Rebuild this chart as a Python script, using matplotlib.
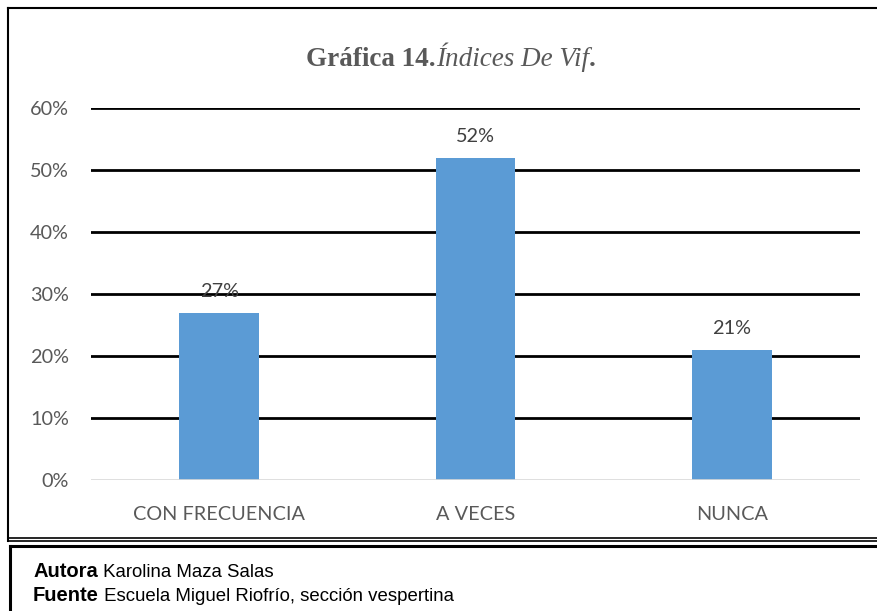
import matplotlib.pyplot as plt
from matplotlib.lines import Line2D

categories = ['CON FRECUENCIA', 'A VECES', 'NUNCA']
values = [0.27, 0.52, 0.21]
labels = ['27%', '52%', '21%']
yticks = [0, 0.1, 0.2, 0.3, 0.4, 0.5, 0.6]
ytick_labels = ['0%', '10%', '20%', '30%', '40%', '50%', '60%']

W, H = 877, 611
fig = plt.figure(figsize=(W / 100, H / 100), dpi=100)


def fx(x):
    return x / W


def fy(y):
    return 1 - y / H


# axes placed in pixel coordinates of the reference
ax = fig.add_axes([fx(91), fy(480), fx(860) - fx(91), fy(108) - fy(480)])
ax.bar(range(len(categories)), values, width=0.31, color='#5B9BD5', zorder=3)
ax.set_xlim(-0.5, 2.5)
ax.set_ylim(0, 0.6)
ax.set_yticks(yticks)
ax.set_yticklabels(ytick_labels)
ax.set_xticks(range(len(categories)))
ax.set_xticklabels(categories)
for y in yticks[1:]:
    ax.axhline(y, color='black', lw=2, zorder=1)
ax.axhline(0, color='#D9D9D9', lw=1.2, zorder=4)
for s in ax.spines.values():
    s.set_visible(False)
ax.tick_params(length=0, labelsize=14.3, labelcolor='#595959')
ax.tick_params(axis='y', pad=16)
ax.tick_params(axis='x', pad=19)
for t in ax.get_xticklabels() + ax.get_yticklabels():
    t.set_fontfamily('Lato')

for i, (v, lab) in enumerate(zip(values, labels)):
    ax.annotate(lab, (i, v), xytext=(0, 9), textcoords='offset points',
                ha='center', va='bottom', fontsize=14.3, color='#404040',
                family='Lato')

# title made of three pieces (bold, italic, bold) on a common baseline
fig.canvas.draw()
renderer = fig.canvas.get_renderer()
pieces = [('Gráfica 14.', 'bold', 'normal'), ('Índices De Vif', 'normal', 'italic'), ('.', 'bold', 'normal')]
texts = []
for s, w, st in pieces:
    t = fig.text(0, fy(66), s, fontsize=19.5, fontweight=w, fontstyle=st,
                 family='Liberation Serif', color='#595959', va='baseline')
    texts.append(t)
widths = [t.get_window_extent(renderer).width for t in texts]
start = 451 - sum(widths) / 2
for t, w in zip(texts, widths):
    t.set_x(fx(start))
    start += w

# frame lines around the chart and the footer
lines = [
    ([8, W], [8, 8], 1.5),
    ([8, 8], [8, 541], 1.5),
    ([8, W], [538, 538], 1.2),
    ([8, W], [541, 541], 1.2),
    ([10, W], [546, 546], 2.2),
    ([10, 10], [546, H], 2.2),
]
for xs, ys, lw in lines:
    fig.add_artist(Line2D([fx(v) for v in xs], [fy(v) for v in ys], color='black', lw=lw))

# footer text
foot = [('Autora', ' Karolina Maza Salas', 577), ('Fuente', ' Escuela Miguel Riofrío, sección vespertina', 601)]
for b, r, y in foot:
    tb = fig.text(fx(33), fy(y), b, fontsize=14.5, fontweight='bold', family='Liberation Sans', va='baseline')
    wb = tb.get_window_extent(renderer).width
    fig.text(fx(33 + wb), fy(y), r, fontsize=13.4, family='Liberation Sans', va='baseline')

fig.savefig('out.png', dpi=100)
